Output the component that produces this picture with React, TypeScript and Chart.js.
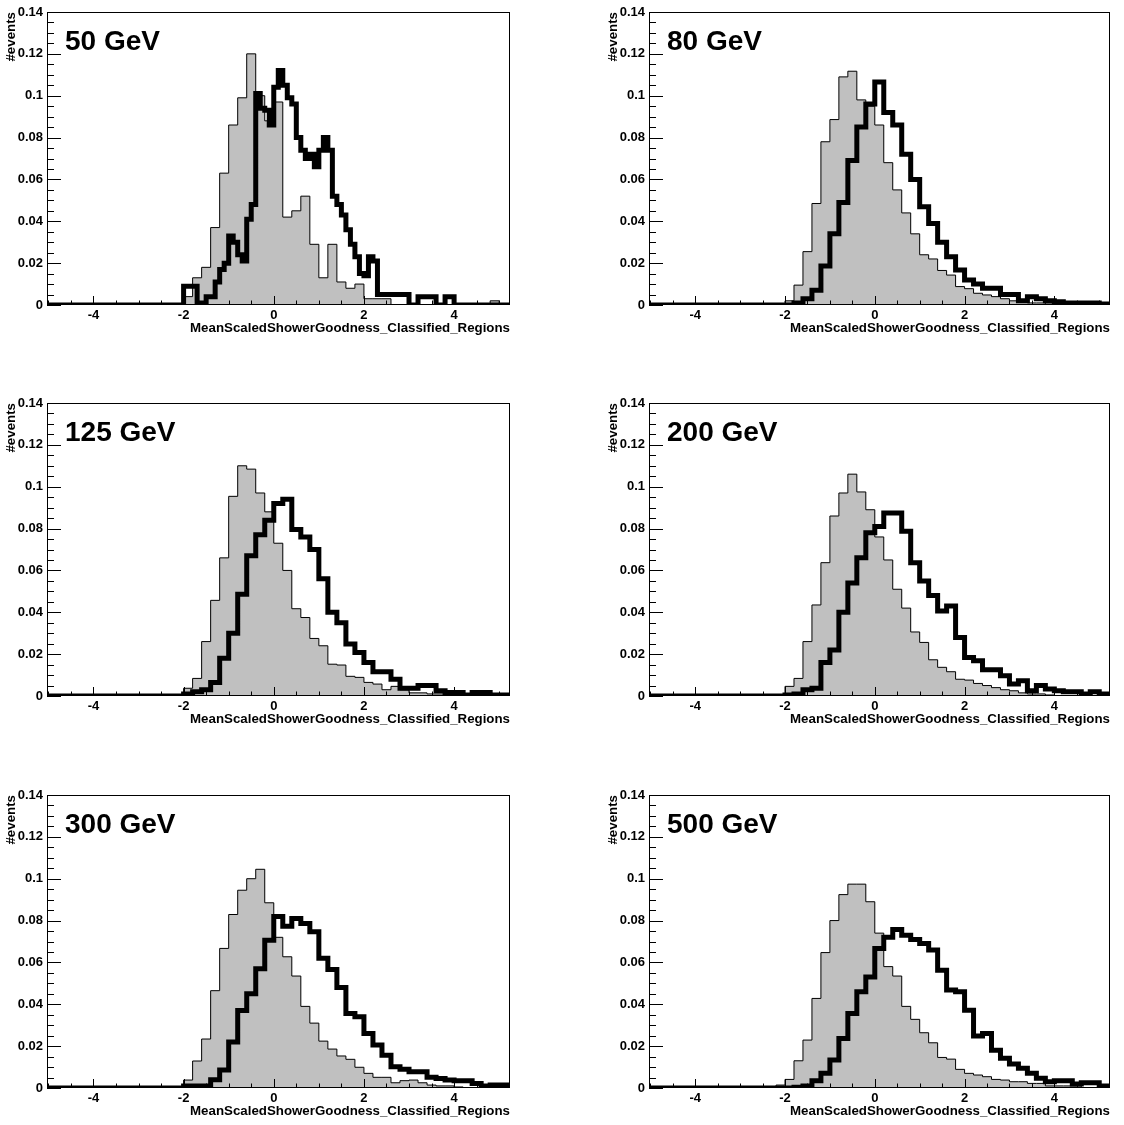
import React, { useEffect, useRef } from "react";
import { Chart, registerables } from "chart.js";

Chart.register(...registerables);

// ---------- data ----------
const energyLabels = ["50 GeV", "80 GeV", "125 GeV", "200 GeV", "300 GeV", "500 GeV"];
const xAxisTitle = "MeanScaledShowerGoodness_Classified_Regions";
const yAxisTitle = "#events";

const xTickValues = [-4, -2, 0, 2, 4];
const xMinorTickValues = [-5, -4.5, -4, -3.5, -3, -2.5, -2, -1.5, -1, -0.5, 0, 0.5, 1, 1.5, 2, 2.5, 3, 3.5, 4, 4.5, 5];
const yTickValues = [0, 0.02, 0.04, 0.06, 0.08, 0.1, 0.12, 0.14];
const yMinorTickValues = [
  0, 0.005, 0.01, 0.015, 0.02, 0.025, 0.03, 0.035, 0.04, 0.045, 0.05, 0.055, 0.06, 0.065, 0.07,
  0.075, 0.08, 0.085, 0.09, 0.095, 0.1, 0.105, 0.11, 0.115, 0.12, 0.125, 0.13, 0.135, 0.14,
];

const X_MIN = -5.03;
const X_MAX = 5.24;

// first bin lower edge and bin width of each series
const grayStart = [-2.0, -2.0, -2.0, -2.0, -2.0, -2.2];
const grayBinWidth = [0.2, 0.2, 0.2, 0.2, 0.2, 0.2];
const blackStart = [-2.0, -2.0, -2.0, -2.0, -2.0, -2.0];
const blackBinWidth = [0.1, 0.2, 0.2, 0.2, 0.2, 0.2];

// 50 GeV
const gray50 = [0.004, 0.013, 0.018, 0.037, 0.063, 0.086, 0.099, 0.12, 0.1, 0.088, 0.097, 0.042, 0.045, 0.052,
  0.029, 0.013, 0.029, 0.011, 0.008, 0.01, 0.003, 0.003, 0.003, 0, 0, 0, 0, 0, 0, 0, 0, 0, 0, 0, 0.002];
const black50 = [0.009, 0.009, 0.009, 0.001, 0.001, 0.004, 0.004, 0.011, 0.017, 0.02, 0.033, 0.03, 0.024, 0.021,
  0.041, 0.048, 0.101, 0.094, 0.093, 0.086, 0.104, 0.112, 0.105, 0.099, 0.096, 0.08, 0.074, 0.07, 0.072, 0.066,
  0.074, 0.08, 0.074, 0.052, 0.048, 0.043, 0.036, 0.029, 0.023, 0.015, 0.014, 0.023, 0.021, 0.005, 0.005, 0.005,
  0.005, 0.005, 0.005, 0.005, 0, 0, 0.004, 0.004, 0.004, 0.004, 0, 0, 0.004, 0.004];
// 80 GeV
const gray80 = [0.002, 0.0095, 0.0255, 0.0485, 0.078, 0.0886, 0.109, 0.1117, 0.098, 0.095, 0.086, 0.068, 0.055,
  0.044, 0.034, 0.024, 0.022, 0.0165, 0.0143, 0.0088, 0.0078, 0.0056, 0.0048, 0.004, 0.003, 0.002, 0.002, 0.001,
  0.001, 0.0005];
const black80 = [0, 0.001, 0.003, 0.007, 0.0186, 0.034, 0.049, 0.069, 0.085, 0.096, 0.1066, 0.092, 0.086, 0.072,
  0.06, 0.047, 0.039, 0.03, 0.023, 0.0167, 0.012, 0.01, 0.008, 0.008, 0.005, 0.005, 0.002, 0.004, 0.003, 0.002,
  0.0016, 0.001, 0.001, 0.001, 0.001, 0.0005];
// 125 GeV
const gray125 = [0.0037, 0.0084, 0.026, 0.0457, 0.066, 0.0954, 0.11, 0.1084, 0.097, 0.088, 0.073, 0.06, 0.0417,
  0.0375, 0.0275, 0.024, 0.0152, 0.0148, 0.0094, 0.0089, 0.0065, 0.0057, 0.003, 0.0046, 0.003, 0.0015, 0.0015,
  0.001, 0.001, 0.0005];
const black125 = [0.001, 0.002, 0.003, 0.0065, 0.018, 0.03, 0.0486, 0.067, 0.077, 0.084, 0.092, 0.094, 0.0795,
  0.076, 0.07, 0.056, 0.04, 0.035, 0.0248, 0.0208, 0.016, 0.0116, 0.0116, 0.008, 0.0037, 0.0037, 0.005, 0.005,
  0.0025, 0.0017, 0.0017, 0.0005, 0.0017, 0.0017, 0.0005, 0.0005];
// 200 GeV
const gray200 = [0.0046, 0.0084, 0.026, 0.0435, 0.0637, 0.086, 0.097, 0.106, 0.0975, 0.089, 0.076, 0.065, 0.051,
  0.042, 0.0306, 0.0256, 0.0173, 0.0137, 0.0116, 0.008, 0.0076, 0.006, 0.005, 0.004, 0.003, 0.0025, 0.0015, 0.001,
  0.001, 0.0005];
const black200 = [0.0005, 0.001, 0.003, 0.0037, 0.016, 0.022, 0.04, 0.054, 0.066, 0.078, 0.081, 0.0875, 0.0875,
  0.0787, 0.0637, 0.055, 0.048, 0.0406, 0.043, 0.028, 0.0184, 0.0168, 0.0125, 0.0125, 0.0097, 0.0057, 0.0073,
  0.0025, 0.005, 0.0033, 0.0025, 0.002, 0.002, 0.001, 0.002, 0.001];
// 300 GeV
const gray300 = [0.0038, 0.0129, 0.0234, 0.0465, 0.0667, 0.0829, 0.0945, 0.1, 0.1045, 0.0885, 0.072, 0.0627,
  0.0535, 0.039, 0.031, 0.0224, 0.0186, 0.0153, 0.0137, 0.0099, 0.007, 0.0051, 0.0051, 0.0025, 0.0035, 0.0038,
  0.0025, 0.0014, 0.001, 0.001, 0.0005];
const black300 = [0.001, 0.001, 0.001, 0.004, 0.0086, 0.022, 0.037, 0.045, 0.057, 0.0706, 0.082, 0.0773, 0.081,
  0.0786, 0.0746, 0.062, 0.0566, 0.048, 0.0356, 0.034, 0.026, 0.0205, 0.0157, 0.0102, 0.0089, 0.0078, 0.0078,
  0.0051, 0.0045, 0.0038, 0.0035, 0.0035, 0.0022, 0.001, 0.0014, 0.0014];
// 500 GeV
const gray500 = [0.0014, 0.0041, 0.013, 0.0229, 0.0428, 0.0647, 0.08, 0.0924, 0.0974, 0.0974, 0.089, 0.074, 0.058,
  0.0535, 0.039, 0.0328, 0.0264, 0.0216, 0.0146, 0.0138, 0.0089, 0.007, 0.0062, 0.0054, 0.0041, 0.0038, 0.003,
  0.003, 0.0022, 0.0022, 0.001, 0.001, 0.001, 0.001];
const black500 = [0, 0.0003, 0.001, 0.0035, 0.007, 0.0134, 0.0237, 0.0356, 0.046, 0.053, 0.0667, 0.072, 0.0757,
  0.073, 0.071, 0.069, 0.0659, 0.0563, 0.0468, 0.046, 0.0372, 0.0248, 0.026, 0.018, 0.0142, 0.0115, 0.0094, 0.007,
  0.0046, 0.003, 0.0035, 0.0035, 0.0019, 0.0025, 0.0025, 0.001];

const graySeries = [gray50, gray80, gray125, gray200, gray300, gray500];
const blackSeries = [black50, black80, black125, black200, black300, black500];

// ---------- helpers ----------
const FONT = '"Liberation Sans", Arial, Helvetica, sans-serif';
Chart.defaults.font.family = FONT;
Chart.defaults.color = "#000";

function histPoints(start: number, width: number, values: number[]) {
  const pts: { x: number; y: number }[] = [{ x: X_MIN, y: 0 }];
  values.forEach((v, i) => pts.push({ x: start + i * width, y: v }));
  pts.push({ x: start + values.length * width, y: 0 });
  pts.push({ x: X_MAX, y: 0 });
  return pts;
}

const fmt = (v: any) => String(+(+v).toFixed(3));

const rootStyle = {
  id: "rootStyle",
  afterDatasetsDraw(chart: any, _args: any, opts: any) {
    const { ctx, chartArea: a, scales } = chart;
    const xs = scales.x;
    const ys = scales.y;
    ctx.save();
    ctx.strokeStyle = "#000";
    ctx.lineWidth = 1;
    ctx.beginPath();
    for (const v of xMinorTickValues) {
      const px = Math.round(xs.getPixelForValue(v)) + 0.5;
      const len = xTickValues.includes(v) ? 9 : 4.5;
      ctx.moveTo(px, a.bottom);
      ctx.lineTo(px, a.bottom - len);
    }
    for (const v of yMinorTickValues) {
      const py = Math.round(ys.getPixelForValue(v)) + 0.5;
      const major = yTickValues.some((t) => Math.abs(t - v) < 1e-9);
      ctx.moveTo(a.left, py);
      ctx.lineTo(a.left + (major ? 14 : 7), py);
    }
    ctx.stroke();
    ctx.strokeRect(Math.round(a.left) + 0.5, Math.round(a.top) + 0.5, Math.round(a.width) - 1, Math.round(a.height) - 1);
    ctx.fillStyle = "#000";
    ctx.font = `bold 28px ${FONT}`;
    ctx.textAlign = "left";
    ctx.textBaseline = "alphabetic";
    ctx.fillText(opts.label, a.left + 18, a.top + 38);
    ctx.restore();
  },
};

function Panel({ idx }: { idx: number }) {
  const ref = useRef<HTMLCanvasElement | null>(null);
  const col = idx % 2;
  const row = Math.floor(idx / 2);
  const top = [0, 391, 783][row];
  useEffect(() => {
    if (!ref.current) return;
    const tickFont = { family: FONT, size: 13, weight: "bold" as const };
    const titleFont = { family: FONT, size: 13.3, weight: "bold" as const };
    const chart = new Chart(ref.current, {
      type: "line",
      data: {
        datasets: [
          {
            label: "thick",
            data: histPoints(blackStart[idx], blackBinWidth[idx], blackSeries[idx]),
            stepped: true,
            borderColor: "#000",
            borderWidth: 5,
            borderJoinStyle: "miter",
            borderCapStyle: "butt",
            pointRadius: 0,
            fill: false,
            order: 0,
          },
          {
            label: "filled",
            data: histPoints(grayStart[idx], grayBinWidth[idx], graySeries[idx]),
            stepped: true,
            borderColor: "#000",
            borderWidth: 1,
            backgroundColor: "#c0c0c0",
            pointRadius: 0,
            fill: "origin",
            order: 1,
          },
        ],
      },
      options: {
        animation: false,
        responsive: false,
        events: [],
        layout: {
          padding: col === 0 ? { left: 0, right: 52, top: 12, bottom: 0 } : { left: 40, right: 14, top: 12, bottom: 0 },
        },
        plugins: {
          legend: { display: false },
          tooltip: { enabled: false },
          rootStyle: { label: energyLabels[idx] },
        } as any,
        scales: {
          x: {
            type: "linear",
            min: X_MIN,
            max: X_MAX,
            afterBuildTicks: (s: any) => {
              s.ticks = xTickValues.map((v) => ({ value: v }));
            },
            afterFit: (s: any) => {
              s.height = 35;
            },
            grid: { display: false, drawTicks: false },
            border: { display: false },
            ticks: { padding: 3, maxRotation: 0, autoSkip: false, font: tickFont, color: "#000", callback: fmt },
            title: {
              display: true,
              text: xAxisTitle,
              align: "end",
              padding: { top: 0, bottom: 4 },
              font: titleFont,
              color: "#000",
            },
          },
          y: {
            type: "linear",
            min: 0,
            max: 0.14,
            afterBuildTicks: (s: any) => {
              s.ticks = yTickValues.map((v) => ({ value: v }));
            },
            afterFit: (s: any) => {
              s.width = 47;
            },
            grid: { display: false, drawTicks: false },
            border: { display: false },
            ticks: { padding: 4, font: tickFont, color: "#000", callback: fmt },
            title: {
              display: true,
              text: yAxisTitle,
              align: "end",
              padding: { top: 3, bottom: 0 },
              font: titleFont,
              color: "#000",
            },
          },
        },
      },
      plugins: [rootStyle as any],
    });
    return () => chart.destroy();
  }, [idx]);
  return (
    <canvas
      ref={ref}
      width={562}
      height={340}
      style={{ position: "absolute", left: col * 562, top, width: 562, height: 340 }}
    />
  );
}

export default function App() {
  return (
    <div style={{ position: "absolute", left: 0, top: 0, width: 1124, height: 1125, background: "#fff", overflow: "hidden" }}>
      {energyLabels.map((_, i) => (
        <Panel key={i} idx={i} />
      ))}
    </div>
  );
}
